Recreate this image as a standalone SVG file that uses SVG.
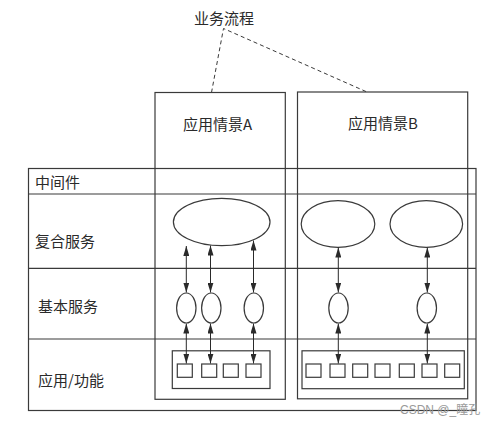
<svg xmlns="http://www.w3.org/2000/svg" width="496" height="421" viewBox="0 0 496 421">
<defs>
<style>
.ln{fill:none;stroke:#3a3a3a;stroke-width:1.2}
.sh{fill:#fff;stroke:#3a3a3a;stroke-width:1.2}
.dash{fill:none;stroke:#3a3a3a;stroke-width:1;stroke-dasharray:4 3}
.t{font-family:"Noto Sans CJK SC","Noto Sans CJK JP",sans-serif;font-size:15px;fill:#2a2a2a}
.ts{font-family:"Noto Serif CJK SC","Noto Sans CJK SC",serif;font-size:15px;fill:#2a2a2a}
.arr{fill:none;stroke:#2a2a2a;stroke-width:1;marker-start:url(#ah);marker-end:url(#ah)}
.wm{font-family:"Liberation Sans","Noto Sans CJK SC",sans-serif;font-size:12px;fill:#9a9a9a}
</style>
<marker id="ah" viewBox="0 0 10 6" refX="10" refY="3" markerWidth="10" markerHeight="6" markerUnits="userSpaceOnUse" orient="auto-start-reverse">
<path d="M0,0 L10,3 L0,6 z" fill="#2a2a2a"/>
</marker>
</defs>
<rect width="496" height="421" fill="#fff"/>

<g id="connectors">
<path class="dash" d="M211.5,92.5 L223.5,28.5 L367,92"/>
</g>

<g id="middleware">
<rect class="ln" x="28.5" y="168.5" width="447.5" height="242"/>
<line class="ln" x1="28.5" y1="194" x2="476" y2="194"/>
<line class="ln" x1="28.5" y1="268.3" x2="476" y2="268.3"/>
<line class="ln" x1="28.5" y1="339" x2="476" y2="339"/>
<text class="t" x="35" y="188">中间件</text>
<text class="t" x="35" y="247">复合服务</text>
<text class="t" x="38" y="311.5">基本服务</text>
<text class="t" x="38" y="385.5">应用/功能</text>
</g>

<g id="scenarioA">
<rect class="ln" x="155" y="92.5" width="130.3" height="306.8"/>
<text class="t" x="217.5" y="129.5" text-anchor="middle">应用情景A</text>
<ellipse class="sh" cx="221.7" cy="222" rx="48.3" ry="23.7"/>
<ellipse class="sh" cx="186.3" cy="308" rx="9.7" ry="15"/>
<ellipse class="sh" cx="211.3" cy="308" rx="9.7" ry="15"/>
<ellipse class="sh" cx="253.8" cy="308" rx="9.7" ry="15"/>
<rect class="ln" x="172.3" y="350.8" width="97.7" height="37.7"/>
<rect class="ln" x="177.3" y="364" width="15" height="13.3"/>
<rect class="ln" x="201.7" y="364" width="15" height="13.3"/>
<rect class="ln" x="223.3" y="364" width="15" height="13.3"/>
<rect class="ln" x="246" y="364" width="15" height="13.3"/>
<line class="arr" x1="186.3" y1="246" x2="186.3" y2="292.5"/>
<line class="arr" x1="186.3" y1="323.5" x2="186.3" y2="363.5"/>
<line class="arr" x1="210.5" y1="245.5" x2="210.5" y2="292.5"/>
<line class="arr" x1="210.5" y1="323.5" x2="210.5" y2="363.5"/>
<line class="arr" x1="253.5" y1="240.5" x2="253.5" y2="292.5"/>
<line class="arr" x1="253.5" y1="323.5" x2="253.5" y2="363.5"/>
</g>

<g id="scenarioB">
<rect class="ln" x="297.5" y="92" width="170.2" height="306.8"/>
<text class="t" x="383" y="129" text-anchor="middle">应用情景B</text>
<ellipse class="sh" cx="338" cy="224" rx="36.8" ry="23.3"/>
<ellipse class="sh" cx="426.3" cy="224" rx="36.3" ry="23.3"/>
<ellipse class="sh" cx="338.5" cy="308" rx="9.7" ry="15"/>
<ellipse class="sh" cx="426.8" cy="308" rx="9.7" ry="15"/>
<rect class="ln" x="302" y="350.8" width="162.3" height="37.9"/>
<rect class="ln" x="306" y="364" width="15" height="13.3"/>
<rect class="ln" x="330" y="364" width="15" height="13.3"/>
<rect class="ln" x="352.7" y="364" width="15" height="13.3"/>
<rect class="ln" x="375" y="364" width="15" height="13.3"/>
<rect class="ln" x="399.3" y="364" width="15" height="13.3"/>
<rect class="ln" x="422" y="364" width="15" height="13.3"/>
<rect class="ln" x="444.7" y="364" width="15" height="13.3"/>
<line class="arr" x1="338.3" y1="247.5" x2="338.3" y2="292.5"/>
<line class="arr" x1="338.3" y1="323.5" x2="338.3" y2="363.5"/>
<line class="arr" x1="427.3" y1="247.5" x2="427.3" y2="292.5"/>
<line class="arr" x1="427.3" y1="323.5" x2="427.3" y2="363.5"/>
</g>

<g id="process">
<text class="t" x="224" y="24" text-anchor="middle">业务流程</text>
</g>

<text class="wm" x="400" y="414">CSDN @_瞳孔</text>
</svg>
